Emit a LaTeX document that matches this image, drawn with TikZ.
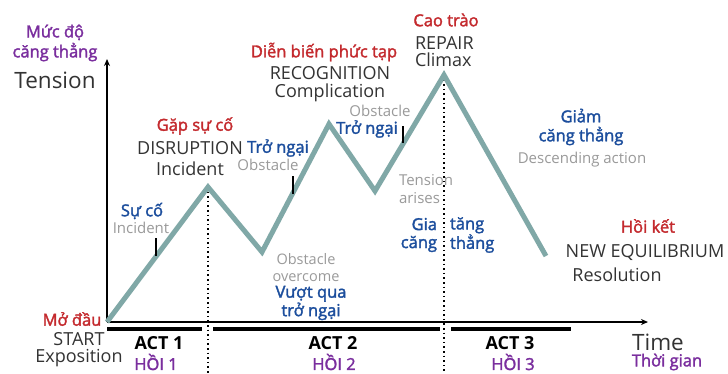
\documentclass[tikz,border=0pt]{standalone}
\usepackage{fontspec}
\setmainfont{Open Sans}
\newfontfamily\semib[FakeBold=2]{Open Sans}
\usetikzlibrary{arrows.meta}
\definecolor{cteal}{HTML}{80A8A7}
\definecolor{cred}{HTML}{C42A2E}
\definecolor{cblue}{HTML}{1C4E9D}
\definecolor{cpurple}{HTML}{7A2E9E}
\definecolor{cgray}{HTML}{9A9A9A}
\definecolor{cdark}{HTML}{333333}
\begin{document}
\begin{tikzpicture}[x=1pt,y=-1pt,
  every node/.style={inner sep=0pt, outer sep=0pt, align=center},
  vred/.style={text=cred, font=\semib\fontsize{16.5}{18}\selectfont},
  vblue/.style={text=cblue, font=\semib\fontsize{16.5}{18}\selectfont},
  vpurple/.style={text=cpurple, font=\semib\fontsize{16.5}{20}\selectfont},
  engray/.style={text=cgray, font=\fontsize{15}{18}\selectfont},
  endark/.style={text=cdark, font=\fontsize{18}{21}\selectfont},
  axislabel/.style={text=cdark, font=\fontsize{22.5}{24}\selectfont},
  actlabel/.style={text=black, font=\bfseries\fontsize{18}{20}\selectfont},
  tensionline/.style={draw=cteal, line width=5pt, line join=miter},
  axisline/.style={draw=black, line width=1.5pt, -{Stealth[length=7pt,width=6pt]}},
  actbar/.style={draw=black, line width=3.5pt},
  guideline/.style={draw=black, line width=1.6pt, dash pattern=on 1.6pt off 3pt},
  tickmark/.style={draw=black, line width=1.5pt}
]
\useasboundingbox[fill=white] (0,0) rectangle (728,373);

% key points of the tension curve
\coordinate (O) at (107,322);
\coordinate (P1) at (208,187);
\coordinate (V1) at (262,252);
\coordinate (P2) at (329,124);
\coordinate (V2) at (375,191);
\coordinate (P3) at (444,75);
\coordinate (E) at (546,256);
\coordinate (ytip) at (107,59);
\coordinate (xtip) at (648,322);
\coordinate (d1) at (208,373);
\coordinate (d2) at (444,373);

% guides
\draw[guideline] (P1) -- (d1);
\draw[guideline] (P3) -- (d2);

% act bars
\coordinate (a1s) at (107,329); \coordinate (a1e) at (202,329);
\coordinate (a2s) at (213,329); \coordinate (a2e) at (440,329);
\coordinate (a3s) at (451,329); \coordinate (a3e) at (571,329);
\draw[actbar] (a1s) -- (a1e);
\draw[actbar] (a2s) -- (a2e);
\draw[actbar] (a3s) -- (a3e);

% axes
\draw[axisline] (O) -- (ytip);
\draw[axisline] (O) -- (xtip);

% tension line
\draw[tensionline] (O) -- (P1) -- (V1) -- (P2) -- (V2) -- (P3) -- (E);

% ticks
\coordinate (t1a) at (156,238); \coordinate (t1b) at (156,256);
\coordinate (t2a) at (293,176); \coordinate (t2b) at (293,194);
\coordinate (t3a) at (403,126); \coordinate (t3b) at (403,143);
\draw[tickmark] (t1a) -- (t1b);
\draw[tickmark] (t2a) -- (t2b);
\draw[tickmark] (t3a) -- (t3b);

% axis labels
\node[vpurple] (ml) at (55,43) {Mức độ\\căng thẳng};
\node[axislabel] (tens) at (55,80) {Tension};
\node[axislabel] (time) at (658,342) {Time};
\node[vpurple] (tg) at (667,362) {Thời gian};

% start
\node[endark, font=\fontsize{18}{17}\selectfont] (start) at (79,350) {START\\Exposition};
\node[vred] (mdau) at (72,319) {Mở đầu};

% acts
\node[actlabel] (act1) at (159,343) {ACT 1};
\node[actlabel] (act2) at (333,343) {ACT 2};
\node[actlabel] (act3) at (510,343) {ACT 3};
\node[vpurple] (h1) at (156,362) {HỒI 1};
\node[vpurple] (h2) at (334,362) {HỒI 2};
\node[vpurple] (h3) at (513,362) {HỒI 3};

% incident
\node[vblue] (suco) at (142,211) {Sự cố};
\node[engray] (inc) at (141,228) {Incident};

% disruption
\node[vred] (gap) at (195,126) {Gặp sự cố};
\node[endark] (disr) at (190,159) {DISRUPTION\\Incident};

% obstacle 1
\node[vblue] (tn1) at (278,148) {Trở ngại};
\node[engray] (ob1) at (268,165) {Obstacle};

% obstacle overcome
\node[engray, font=\fontsize{14.5}{17}\selectfont] (obo) at (306,268) {Obstacle\\overcome};
\node[vblue, font=\semib\fontsize{16.5}{15.5}\selectfont] (vq) at (311,303) {Vượt qua\\trở ngại};

% recognition
\node[vred] (dbpt) at (324,52) {Diễn biến phức tạp};
\node[endark, font=\fontsize{18}{18}\selectfont] (reco) at (330,84) {RECOGNITION\\Complication};

% obstacle 2
\node[engray] (ob2) at (380,111) {Obstacle};
\node[vblue] (tn2) at (367,129) {Trở ngại};

% climax
\node[vred] (cao) at (446,20) {Cao trào};
\node[endark, align=left, anchor=west, font=\fontsize{18}{17}\selectfont] (rep) at (415,52) {REPAIR\\Climax};

% tension arises
\node[engray, align=left, anchor=west] (tar) at (399,189) {Tension\\arises};
\node[vblue, align=right, anchor=east] (gia) at (437,235) {Gia\\căng};
\node[vblue, align=left, anchor=west] (tang) at (450,235) {tăng\\thẳng};

% descending
\node[vblue, font=\semib\fontsize{16.5}{19}\selectfont] (giam) at (581,127) {Giảm\\căng thẳng};
\node[engray] (desc) at (582,160) {Descending action};

% resolution
\node[vred] (hk) at (648,226) {Hồi kết};
\node[endark] (neweq) at (645,252) {NEW EQUILIBRIUM};
\node[endark] (resol) at (617,275) {Resolution};
\end{tikzpicture}
\end{document}
